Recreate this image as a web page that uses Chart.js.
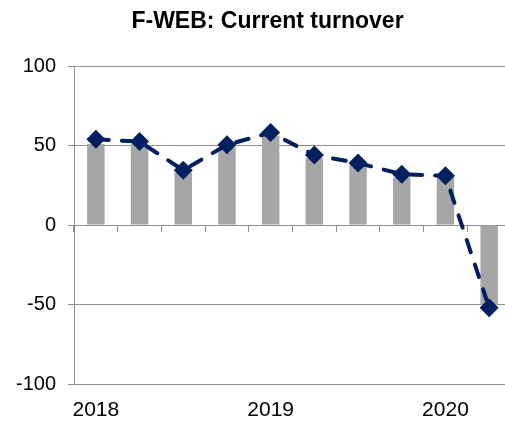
<!DOCTYPE html>
<html>
<head>
<meta charset="utf-8">
<script src="https://cdn.jsdelivr.net/npm/chart.js@4/dist/chart.umd.min.js"></script>
<style>
  html, body { margin: 0; padding: 0; background: #ffffff; overflow: hidden; width: 505px; height: 423px; }
  canvas { display: block; }
</style>
</head>
<body>
<canvas id="c" width="530" height="423"></canvas>
<script>
const categories = ['2018 Q1', '2018 Q2', '2018 Q3', '2018 Q4', '2019 Q1', '2019 Q2', '2019 Q3', '2019 Q4', '2020 Q1', '2020 Q2'];
const tickLabels = ['2018', '', '', '', '2019', '', '', '', '2020', ''];
const barValues = [51, 51, 33, 49, 56, 42, 38, 30, 30, -50];
const lineValues = [54, 52.5, 34.5, 50.5, 58.2, 44, 39, 32, 31, -52];
const yTicks = [-100, -50, 0, 50, 100];

const FONT = "'Liberation Sans', Arial, sans-serif";
const GRID = '#8f8f8f';

new Chart(document.getElementById('c'), {
  type: 'bar',
  data: {
    labels: categories,
    datasets: [
      {
        type: 'line',
        data: lineValues,
        xAxisID: 'x',
        yAxisID: 'y',
        order: 0,
        borderColor: '#002060',
        borderWidth: 4,
        borderDash: [13, 13],
        borderCapStyle: 'round',
        backgroundColor: '#002060',
        pointStyle: 'rectRot',
        pointRadius: 9.5,
        pointBorderWidth: 0,
        pointBackgroundColor: '#002060',
        tension: 0,
        fill: false
      },
      {
        type: 'bar',
        data: barValues,
        xAxisID: 'x',
        yAxisID: 'y',
        order: 1,
        backgroundColor: '#a6a6a6',
        borderWidth: 0,
        barPercentage: 0.4,
        categoryPercentage: 1.0
      }
    ]
  },
  options: {
    responsive: false,
    animation: false,
    layout: { padding: { left: 5, right: 0, top: 0, bottom: 0 } },
    plugins: {
      legend: { display: false },
      tooltip: { enabled: false },
      title: {
        display: true,
        text: 'F-WEB: Current turnover',
        color: '#000000',
        font: { family: FONT, size: 23, weight: 'bold' },
        padding: { top: 7.5, bottom: 31 }
      }
    },
    scales: {
      x: {
        type: 'category',
        position: 'bottom',
        offset: true,
        grid: { display: false, drawTicks: false },
        border: { display: false },
        afterFit: (s) => { s.height = 39; },
        ticks: {
          autoSkip: false,
          maxRotation: 0,
          padding: 14,
          color: '#000000',
          font: { family: FONT, size: 21 },
          callback: (v, i) => tickLabels[i]
        }
      },
      x2: {
        type: 'category',
        position: { y: 0 },
        offset: true,
        afterFit: (s) => { s.height = 0; },
        grid: { offset: true, drawOnChartArea: false, drawTicks: true, tickLength: 6, color: GRID, lineWidth: 1 },
        border: { display: true, color: GRID, width: 1 },
        ticks: { display: false }
      },
      y: {
        min: -100,
        max: 100,
        afterBuildTicks: (s) => { s.ticks = yTicks.map(v => ({ value: v })); },
        afterFit: (s) => { s.width = 69; },
        grid: { color: GRID, lineWidth: 1, drawTicks: true, tickLength: 6 },
        border: { display: true, color: GRID, width: 1 },
        ticks: {
          padding: 12,
          color: '#000000',
          font: { family: FONT, size: 20 }
        }
      },
      yRight: {
        position: 'right',
        min: 0,
        max: 1,
        afterFit: (s) => { s.width = 19; },
        grid: { drawOnChartArea: false, drawTicks: false },
        border: { display: false },
        ticks: { display: false }
      }
    }
  }
});
</script>
</body>
</html>
